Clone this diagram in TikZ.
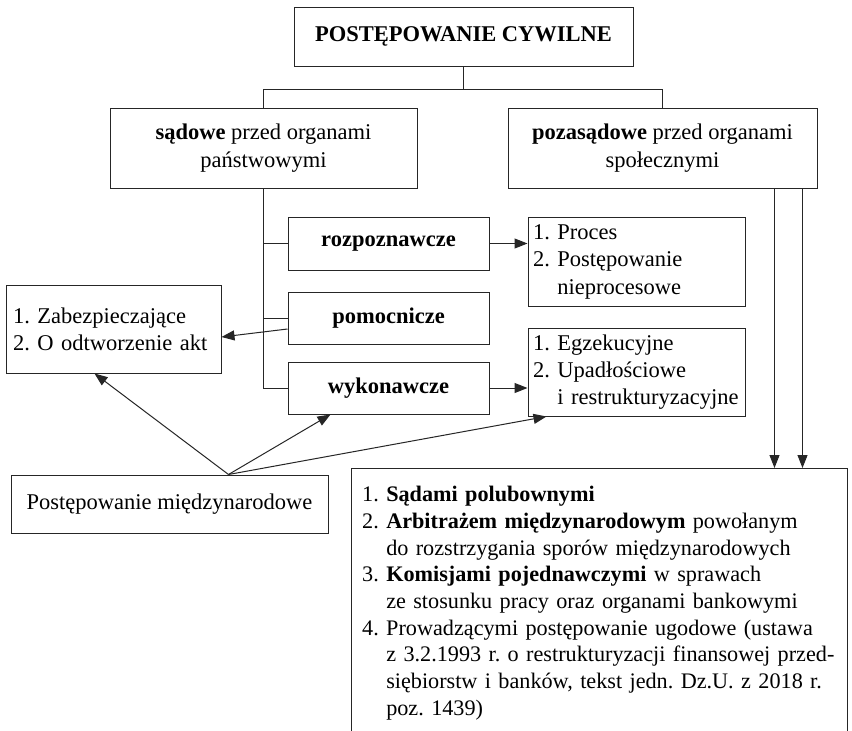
\documentclass[tikz,border=0pt]{standalone}
\usepackage{fontspec}
\setmainfont{Liberation Serif}
\usetikzlibrary{arrows.meta,calc}
\begin{document}
\frenchspacing
\begin{tikzpicture}[x=1pt,y=-1pt,
  box/.style={draw=black!85, line width=1pt, rectangle, inner xsep=0pt, inner ysep=0pt,
    font=\fontsize{22.5pt}{28pt}\selectfont},
  cbox/.style={box, align=center},
  lbox/.style={box, align=left},
  conn/.style={draw=black!85, line width=1pt},
  arr/.style={conn, -{Triangle[length=13pt,width=10pt]}},
]
\clip (0,0) rectangle (852,731);
\fill[white] (0,0) rectangle (852,731);

\node[cbox, minimum width=339pt, minimum height=59pt] (title) at (463.5,36.5) {\textbf{POSTĘPOWANIE CYWILNE}};
\node[cbox, minimum width=307pt, minimum height=80pt] (sad) at (263.5,148) {\textbf{sądowe} przed organami\\państwowymi};
\node[cbox, minimum width=309pt, minimum height=80pt] (poza) at (662.5,148) {\textbf{pozasądowe} przed organami\\społecznymi};

\node[cbox, minimum width=201pt, minimum height=53pt] (roz) at (388.5,243.5) {\textbf{rozpoznawcze}};
\node[cbox, minimum width=201pt, minimum height=52pt] (pom) at (388.5,318) {\textbf{pomocnicze}};
\node[cbox, minimum width=201pt, minimum height=52pt] (wyk) at (388.5,388) {\textbf{wykonawcze}};

\node[lbox, inner xsep=5pt, text width=207pt, minimum height=89pt,
  font=\fontsize{22.5pt}{27.5pt}\selectfont] (proc) at (636.5,261.5)
  {\raisebox{-3pt}{\parbox{207pt}{1. Proces\\2. Postępowanie\\\hphantom{2.\ }nieprocesowe}}};
\node[lbox, inner xsep=5pt, text width=207pt, minimum height=88pt,
  font=\fontsize{22.5pt}{27pt}\selectfont] (egz) at (636.5,372)
  {\raisebox{-3pt}{\parbox{207pt}{1. Egzekucyjne\\2. Upadłościowe\\\hphantom{2.\ }i restrukturyzacyjne}}};
\node[lbox, inner xsep=7pt, text width=201pt, minimum height=88pt,
  font=\fontsize{22.5pt}{27pt}\selectfont] (zab) at (113.5,329)
  {\raisebox{-2pt}{\parbox{201pt}{1. Zabezpieczające\\2. O odtworzenie akt}}};

\node[cbox, minimum width=317pt, minimum height=58pt] (pm) at (169.5,504) {Postępowanie międzynarodowe};

\node[box, anchor=north west, minimum width=496pt, minimum height=320pt] (big) at (351,468) {};
\node[anchor=north west, align=left, inner xsep=11pt, inner ysep=18pt, text width=480pt,
  font=\fontsize{22.2pt}{26.7pt}\selectfont] (bigtxt) at (big.north west)
  {1. \textbf{Sądami polubownymi}\\
   2. \textbf{Arbitrażem międzynarodowym} powołanym\\
   \hphantom{2.\ }do rozstrzygania sporów międzynarodowych\\
   3. \textbf{Komisjami pojednawczymi} w sprawach\\
   \hphantom{3.\ }ze stosunku pracy oraz organami bankowymi\\
   4. Prowadzącymi postępowanie ugodowe (ustawa\\
   \hphantom{4.\ }z 3.2.1993 r. o restrukturyzacji finansowej przed-\\
   \hphantom{4.\ }siębiorstw i banków, tekst jedn. Dz.U. z 2018 r.\\
   \hphantom{4.\ }poz. 1439)};

% tree connectors
\coordinate (jn) at ($(title.south)+(0,23)$);
\draw[conn] (title.south) -- (jn);
\draw[conn] (sad.north) -- (sad.north |- jn) -- (poza.north |- jn) -- (poza.north);
\draw[conn] (sad.south) -- (sad.south |- wyk.west) -- (wyk.west);
\draw[conn] (sad.south |- roz.west) -- (roz.west);
\draw[conn] (sad.south |- pom.west) -- (pom.west);

% arrows
\draw[arr] (roz.east) -- (proc.west |- roz.east);
\draw[arr] (wyk.east) -- (egz.west |- wyk.east);
\draw[arr] ($(pom.west)+(0,11)$) -- ($(zab.east)+(0,8)$);

\coordinate (apex) at ($(pm.north west)+(218,0)$);
\draw[arr] (apex) -- ($(zab.south west)+(89,0)$);
\draw[arr] (apex) -- ($(wyk.south west)+(43,0)$);
\draw[arr] (apex) -- ($(egz.south west)+(19,0)$);

\coordinate (pa) at ($(poza.south west)+(267,0)$);
\coordinate (pb) at ($(poza.south west)+(295,0)$);
\draw[arr] (pa) -- (pa |- big.north);
\draw[arr] (pb) -- (pb |- big.north);
\end{tikzpicture}
\end{document}
